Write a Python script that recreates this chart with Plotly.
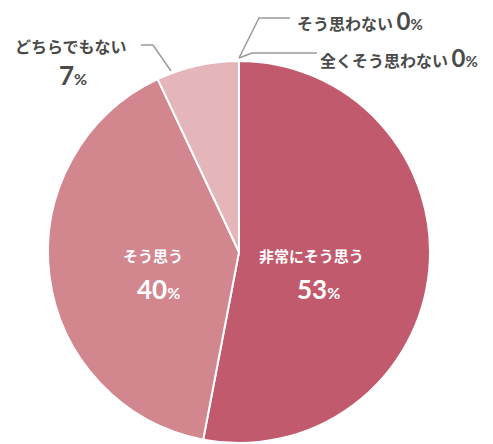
import plotly.graph_objects as go

categories = ["非常にそう思う", "そう思う", "どちらでもない", "そう思わない", "全くそう思わない"]
values = [53, 40, 7, 0, 0]
colors = ["#C25A6E", "#D2868E", "#E4B6B9", "#BFBFBF", "#A0A0A0"]

W, H = 493, 444
def px(x):
    return x / W
def py(y):
    return 1 - y / H

FONT = "Noto Sans CJK JP"
NUMFONT = "Lato, Noto Sans CJK JP"
TXT = "#4A4A4A"

fig = go.Figure(go.Pie(
    labels=categories,
    values=values,
    sort=False,
    direction="clockwise",
    rotation=0,
    marker=dict(colors=colors, line=dict(color="white", width=2)),
    textinfo="none",
    hoverinfo="label+percent",
    domain=dict(x=[px(239 - 191), px(239 + 191)], y=[py(252 + 191), py(252 - 191)]),
    showlegend=False,
))

def pct(v, big, small):
    return f"<b><span style='font-size:{big}px'>{v}</span><span style='font-size:{small}px'>%</span></b>"

def pct_inline(v, big, small):
    return (f"<b><span style='font-size:{big}px;font-family:Lato'>{v}</span>"
            f"<span style='font-size:{small}px;font-family:Lato'>%</span></b>")

ann = []
# inside labels
ann.append(dict(x=px(311), y=py(255), text=f"<b>{categories[0]}</b>", font=dict(size=15, color="white", family=FONT)))
ann.append(dict(x=px(318), y=py(289), text=pct(values[0], 26, 16), font=dict(size=26, color="white", family=NUMFONT)))
ann.append(dict(x=px(153), y=py(255), text=f"<b>{categories[1]}</b>", font=dict(size=15, color="white", family=FONT)))
ann.append(dict(x=px(158), y=py(289), text=pct(values[1], 26, 16), font=dict(size=26, color="white", family=NUMFONT)))
# outside labels
ann.append(dict(x=px(71), y=py(46), text=f"<b>{categories[2]}</b>", font=dict(size=16, color=TXT, family=FONT)))
ann.append(dict(x=px(73), y=py(75), text=pct(values[2], 26, 16), font=dict(size=26, color=TXT, family=NUMFONT)))
ann.append(dict(x=px(295), y=py(21), xanchor="left",
                text=f"<b>{categories[3]}</b> " + pct_inline(values[3], 24, 15), font=dict(size=16, color=TXT, family=FONT)))
ann.append(dict(x=px(318), y=py(57), xanchor="left",
                text=f"<b>{categories[4]}</b> " + pct_inline(values[4], 24, 15), font=dict(size=16, color=TXT, family=FONT)))
for a in ann:
    a.update(xref="paper", yref="paper", showarrow=False)
    a.setdefault("xanchor", "center")
    a["yanchor"] = "middle"

def path(points):
    s = "M " + " L ".join(f"{px(x)},{py(y)}" for x, y in points)
    return dict(type="path", path=s, xref="paper", yref="paper",
                line=dict(color="#9A9A9A", width=1.5))

shapes = [
    path([(141, 45), (153, 45), (171, 71)]),
    path([(290, 18), (259, 18), (239, 58)]),
    path([(317, 53), (252, 53), (239, 58)]),
]

fig.update_layout(
    width=W, height=H,
    margin=dict(l=0, r=0, t=0, b=0),
    paper_bgcolor="white",
    plot_bgcolor="white",
    annotations=ann,
    shapes=shapes,
    font=dict(family=FONT),
)
fig.write_html("out.html", config={"displayModeBar": False},
               post_script="document.body.style.margin='0';document.body.style.padding='0';")
